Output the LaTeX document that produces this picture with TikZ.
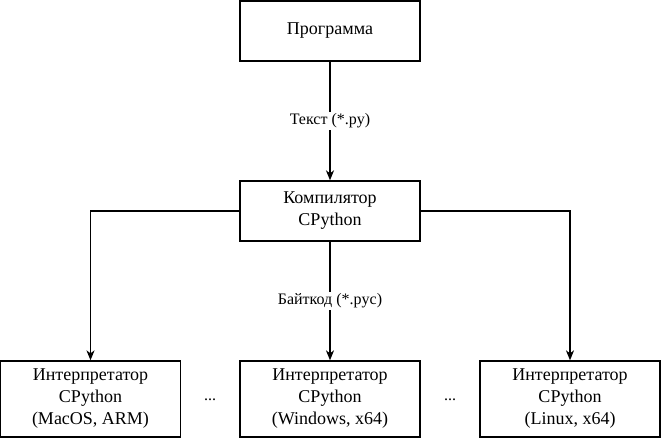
\documentclass[tikz,border=0pt]{standalone}
\usepackage{fontspec}
\setmainfont{Liberation Serif}
\usetikzlibrary{arrows.meta}
\begin{document}
\begin{tikzpicture}[x=1pt,y=-1pt,
  box/.style={draw, line width=1.3pt, align=center, minimum width=180pt, inner sep=0pt,
    font=\fontsize{18}{22}\selectfont},
  conn/.style={line width=1.2pt, -{Stealth[length=10pt,width=8pt,inset=3pt]}},
  lbl/.style={fill=white, inner sep=2pt, font=\fontsize{16}{20}\selectfont}]
\useasboundingbox (0,0) rectangle (662,438);
\node[box, minimum height=60pt] (prog) at (330,31) {Программа};
\node[box, minimum height=60pt] (comp) at (330,211) {Компилятор\\CPython};
\node[box, minimum height=76pt] (mac) at (90.5,399) {Интерпретатор\\CPython\\(MacOS, ARM)};
\node[box, minimum height=76pt] (win) at (330,399) {Интерпретатор\\CPython\\(Windows, x64)};
\node[box, minimum height=76pt] (lin) at (570,399) {Интерпретатор\\CPython\\(Linux, x64)};
\node[font=\fontsize{16}{20}\selectfont] (d1) at (210,400) {...};
\node[font=\fontsize{16}{20}\selectfont] (d2) at (450,400) {...};
\draw[conn] (prog) -- node[lbl] (l1) {Текст (*.py)} (comp);
\draw[conn] (comp) -- node[lbl] (l2) {Байткод (*.pyc)} (win);
\draw[conn] (comp.west) -| (mac.north);
\draw[conn] (comp.east) -| (lin.north);
\end{tikzpicture}
\end{document}
